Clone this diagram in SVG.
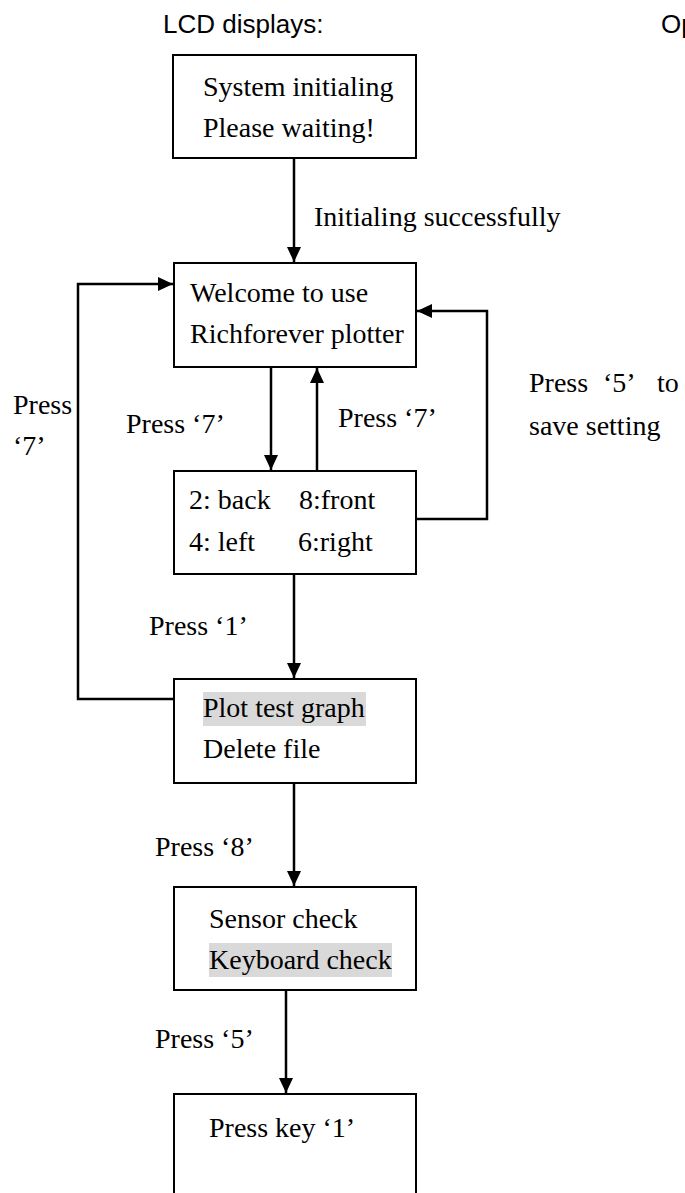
<svg xmlns="http://www.w3.org/2000/svg" width="685" height="1193" viewBox="0 0 685 1193">
<style>
.box{fill:#fff;stroke:#000;stroke-width:2}
.t{font-family:"Liberation Serif","Times New Roman",serif;font-size:28px;fill:#000}
.h{font-family:"Liberation Sans",Arial,sans-serif;font-size:26px;fill:#000}
.c{fill:none;stroke:#000;stroke-width:2.5}
.hl{fill:#d9d9d9}
</style>
<defs>
<marker id="arr" markerUnits="userSpaceOnUse" markerWidth="16" markerHeight="16" refX="15" refY="7" orient="auto">
<path d="M0,0 L15,7 L0,14 Z" fill="#000"/>
</marker>
</defs>
<rect width="685" height="1193" fill="#fff"/>
<text class="h" x="163" y="33">LCD displays:</text>
<text class="h" x="661" y="33">Op</text>

<g id="connectors">
<line class="c" x1="294" y1="158" x2="294" y2="262" marker-end="url(#arr)"/>
<line class="c" x1="271" y1="367" x2="271" y2="470" marker-end="url(#arr)"/>
<line class="c" x1="317" y1="471" x2="317" y2="368" marker-end="url(#arr)"/>
<polyline class="c" points="414,519 487,519 487,311 417,311" marker-end="url(#arr)"/>
<line class="c" x1="294" y1="574" x2="294" y2="678" marker-end="url(#arr)"/>
<polyline class="c" points="174,699 78,699 78,284 173,284" marker-end="url(#arr)"/>
<line class="c" x1="294" y1="783" x2="294" y2="886" marker-end="url(#arr)"/>
<line class="c" x1="286" y1="988" x2="286" y2="1093" marker-end="url(#arr)"/>
<text class="t" x="314" y="226">Initialing successfully</text>
<text class="t" x="13" y="414">Press</text>
<text class="t" x="13" y="455">‘7’</text>
<text class="t" x="126" y="433">Press ‘7’</text>
<text class="t" x="338" y="427">Press ‘7’</text>
<text class="t" y="392"><tspan x="529">Press</tspan><tspan x="603">‘5’</tspan><tspan x="657">to</tspan></text>
<text class="t" x="529" y="435">save setting</text>
<text class="t" x="149" y="635">Press ‘1’</text>
<text class="t" x="155" y="856">Press ‘8’</text>
<text class="t" x="155" y="1048">Press ‘5’</text>
</g>

<g id="node1">
<rect class="box" x="173" y="55" width="243" height="103"/>
<text class="t" x="203" y="96">System initialing</text>
<text class="t" x="203" y="137">Please waiting!</text>
</g>
<g id="node2">
<rect class="box" x="174" y="263" width="242" height="104"/>
<text class="t" x="190" y="302">Welcome to use</text>
<text class="t" x="190" y="343">Richforever plotter</text>
</g>
<g id="node3">
<rect class="box" x="174" y="471" width="242" height="103"/>
<text class="t" x="189" y="509">2: back</text>
<text class="t" x="299" y="509">8:front</text>
<text class="t" x="189" y="551">4: left</text>
<text class="t" x="298" y="551">6:right</text>
</g>
<g id="node4">
<rect class="box" x="174" y="679" width="242" height="104"/>
<rect class="hl" x="203" y="692" width="163" height="34"/>
<text class="t" x="203" y="717">Plot test graph</text>
<text class="t" x="203" y="758">Delete file</text>
</g>
<g id="node5">
<rect class="box" x="174" y="887" width="242" height="103"/>
<text class="t" x="209" y="928">Sensor check</text>
<rect class="hl" x="209" y="943" width="183" height="34"/>
<text class="t" x="209" y="969">Keyboard check</text>
</g>
<g id="node6">
<rect class="box" x="174" y="1094" width="242" height="130"/>
<text class="t" x="209" y="1137">Press key ‘1’</text>
</g>
</svg>
